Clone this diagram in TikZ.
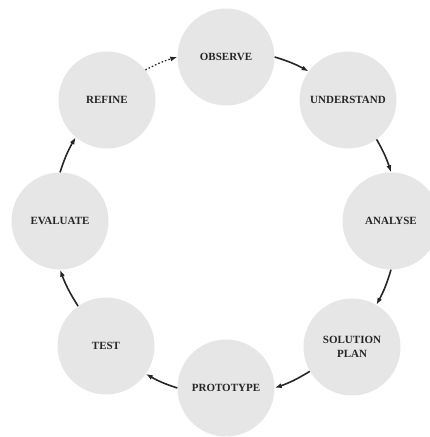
\documentclass[tikz,border=0pt]{standalone}
\usepackage{fontspec}
\setmainfont{Liberation Serif}
\usetikzlibrary{arrows.meta}
\definecolor{stagegrey}{HTML}{E6E6E6}
\definecolor{inkgrey}{HTML}{262626}

\begin{document}
\begin{tikzpicture}[x=1pt, y=1pt,
        stage/.style={circle, fill=stagegrey, minimum size=97pt, inner sep=0pt,
            align=center, text=inkgrey, font=\fontsize{11}{14}\selectfont\bfseries},
        flow/.style={-{Latex[length=7pt, width=5pt]}, line width=1.6pt, inkgrey, bend left=6}]
            \clip (0,0) rectangle (430,437);

            \node[stage] (observe) at (226,380) {OBSERVE};
            \node[stage] (understand) at (348,337) {UNDERSTAND};
            \node[stage] (analyse) at (391,216) {ANALYSE};
            \node[stage] (solution) at (352,90) {SOLUTION\\PLAN};
            \node[stage] (prototype) at (226,49) {PROTOTYPE};
            \node[stage] (test) at (106,91) {TEST};
            \node[stage] (evaluate) at (60,216) {EVALUATE};
            \node[stage] (refine) at (107,337) {REFINE};

            \draw[flow] (observe.0) to (understand.144);
            \draw[flow] (understand.-54) to (analyse.90);
            \draw[flow] (analyse.270) to (solution.60);
            \draw[flow] (solution.210) to (prototype.0);
            \draw[flow] (prototype.180) to (test.-35);
            \draw[flow] (test.125) to (evaluate.270);
            \draw[flow] (evaluate.90) to (refine.230);
            \draw[flow, dotted, line width=1.2pt] (refine.38) to (observe.180);
        \end{tikzpicture}
\end{document}
